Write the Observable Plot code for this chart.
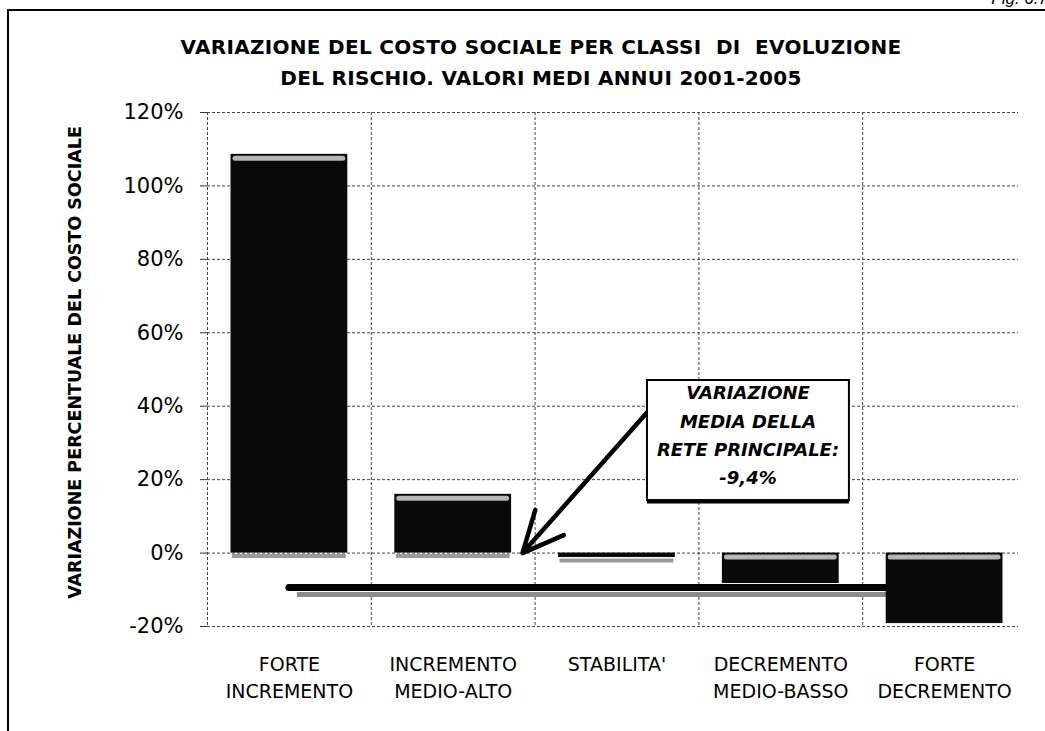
<!DOCTYPE html>
<html>
<head>
<meta charset="utf-8">
<script src="https://cdn.jsdelivr.net/npm/d3@7"></script>
<script src="https://cdn.jsdelivr.net/npm/@observablehq/plot@0.6"></script>
<style>
  body { margin: 0; background: #fff; }
  #wrap { position: relative; width: 1045px; height: 731px; overflow: hidden; font-family: "DejaVu Sans", sans-serif; }
  #frame { position: absolute; left: 7px; top: 9px; width: 1100px; height: 800px; border-left: 2px solid #000; border-top: 2px solid #000; }
  #fig { position: absolute; right: -3px; top: -11px; font: italic 17px "Liberation Sans", Arial, sans-serif; white-space: pre; }
  #title { position: absolute; left: 0; width: 1082px; top: 32px; text-align: center; font-weight: bold; font-size: 20px; letter-spacing: 0.3px; line-height: 31px; white-space: pre; }
  #chart { position: absolute; left: 0; top: 0; }
</style>
</head>
<body>
<div id="wrap">
  <div id="frame"></div>
  <div id="fig">Fig. 6.7</div>
  <div id="chart"></div>
  <div id="title">VARIAZIONE DEL COSTO SOCIALE PER CLASSI  DI  EVOLUZIONE
DEL RISCHIO. VALORI MEDI ANNUI 2001-2005</div>
</div>
<script>
// ---- data ----
const categories = ["FORTE\nINCREMENTO", "INCREMENTO\nMEDIO-ALTO", "STABILITA'", "DECREMENTO\nMEDIO-BASSO", "FORTE\nDECREMENTO"];
const values = [108.6, 16.0, -1.2, -8.3, -19.2];
const yTicks = [-20, 0, 20, 40, 60, 80, 100, 120];
const meanValue = -9.4;
const yLabel = "VARIAZIONE PERCENTUALE DEL COSTO SOCIALE";
const noteText = "VARIAZIONE\nMEDIA DELLA\nRETE PRINCIPALE:\n-9,4%";

const bars = categories.map((c, i) => ({cat: c, i, v: values[i]}));

// annotation placement (in data coordinates)
const note = {x1: 2.686, x2: 3.919, y1: 14.3, y2: 47.0, tx: 3.30, ty: 32.8};
const arrow = {x1: 2.705, y1: 39.4, x2: 1.923, y2: 0};

const grid = {stroke: "#444", strokeDasharray: "3,2", strokeWidth: 1};

const plot = Plot.plot({
  width: 1045,
  height: 731,
  marginLeft: 207,
  marginRight: 19,
  marginTop: 112,
  marginBottom: 105,
  x: {domain: [0, 5], axis: null},
  y: {domain: [-20, 120], axis: null},
  style: {fontFamily: "DejaVu Sans", fontSize: "18px", background: "transparent", overflow: "visible"},
  marks: [
    // grid
    Plot.ruleY(yTicks, {...grid, insetRight: 8}),
    Plot.ruleX([0, 1, 2, 3, 4], grid),
    Plot.ruleY(yTicks, {x1: 0, x2: 0, insetLeft: -7, stroke: "#333"}),
    // y tick labels
    Plot.text(yTicks, {y: d => d, text: d => `${d}%`, frameAnchor: "left", dx: -24, textAnchor: "end", fontSize: 21, letterSpacing: 1, fill: "#000"}),
    // y label
    Plot.text([yLabel], {frameAnchor: "left", textAnchor: "middle", dx: -132, dy: -7, rotate: -90, fontWeight: "bold", fontSize: 17.5, fill: "#000"}),
    // x labels
    Plot.text(categories, {x: (d, i) => i + 0.5, frameAnchor: "bottom", textAnchor: "middle", lineAnchor: "top", dy: 25, fontSize: 19, letterSpacing: 0.8, lineHeight: 1.42, fill: "#000"}),
    // mean line with shadow
    Plot.ruleY([meanValue], {x1: 0.5, x2: 4.5, dy: 7, insetLeft: 8, stroke: "#8c8c8c", strokeWidth: 5}),
    Plot.ruleY([meanValue], {x1: 0.5, x2: 4.5, stroke: "#000", strokeWidth: 7, strokeLinecap: "round"}),
    // bar shadows below baseline
    Plot.ruleY(bars.filter(d => d.v > -3), {y: d => Math.min(d.v, 0), x1: d => d.i, x2: d => d.i + 1, insetLeft: 25, insetRight: 25, dy: 3, stroke: "#9a9a9a", strokeWidth: 4}),
    // bars
    Plot.rectY(bars, {x1: d => d.i, x2: d => d.i + 1, y1: 0, y2: d => d.v, insetLeft: 23.5, insetRight: 23.5, fill: "#0a0a0a"}),
    // top highlight
    Plot.ruleY(bars.filter(d => Math.abs(d.v) > 3), {y: d => Math.max(d.v, 0), x1: d => d.i, x2: d => d.i + 1, insetLeft: 28, insetRight: 28, dy: 4, stroke: "#b5b5b5", strokeWidth: 5, strokeLinecap: "round"}),
    // arrow
    Plot.arrow([arrow], {x1: "x1", y1: "y1", x2: "x2", y2: "y2", stroke: "#000", strokeWidth: 4.5, headLength: 15, headAngle: 50}),
    // annotation box
    Plot.rect([note], {x1: "x1", x2: "x2", y1: "y1", y2: "y2", fill: "#fff", stroke: "#000", strokeWidth: 2}),
    Plot.ruleY([note], {y: "y1", x1: "x1", x2: "x2", dy: 1, stroke: "#000", strokeWidth: 4}),
    Plot.text([note], {x: "tx", y: "ty", text: () => noteText, fontSize: 18, fontWeight: "bold", fontStyle: "italic", lineHeight: 1.58, fill: "#000"})
  ]
});
document.getElementById("chart").appendChild(plot);
</script>
</body>
</html>
